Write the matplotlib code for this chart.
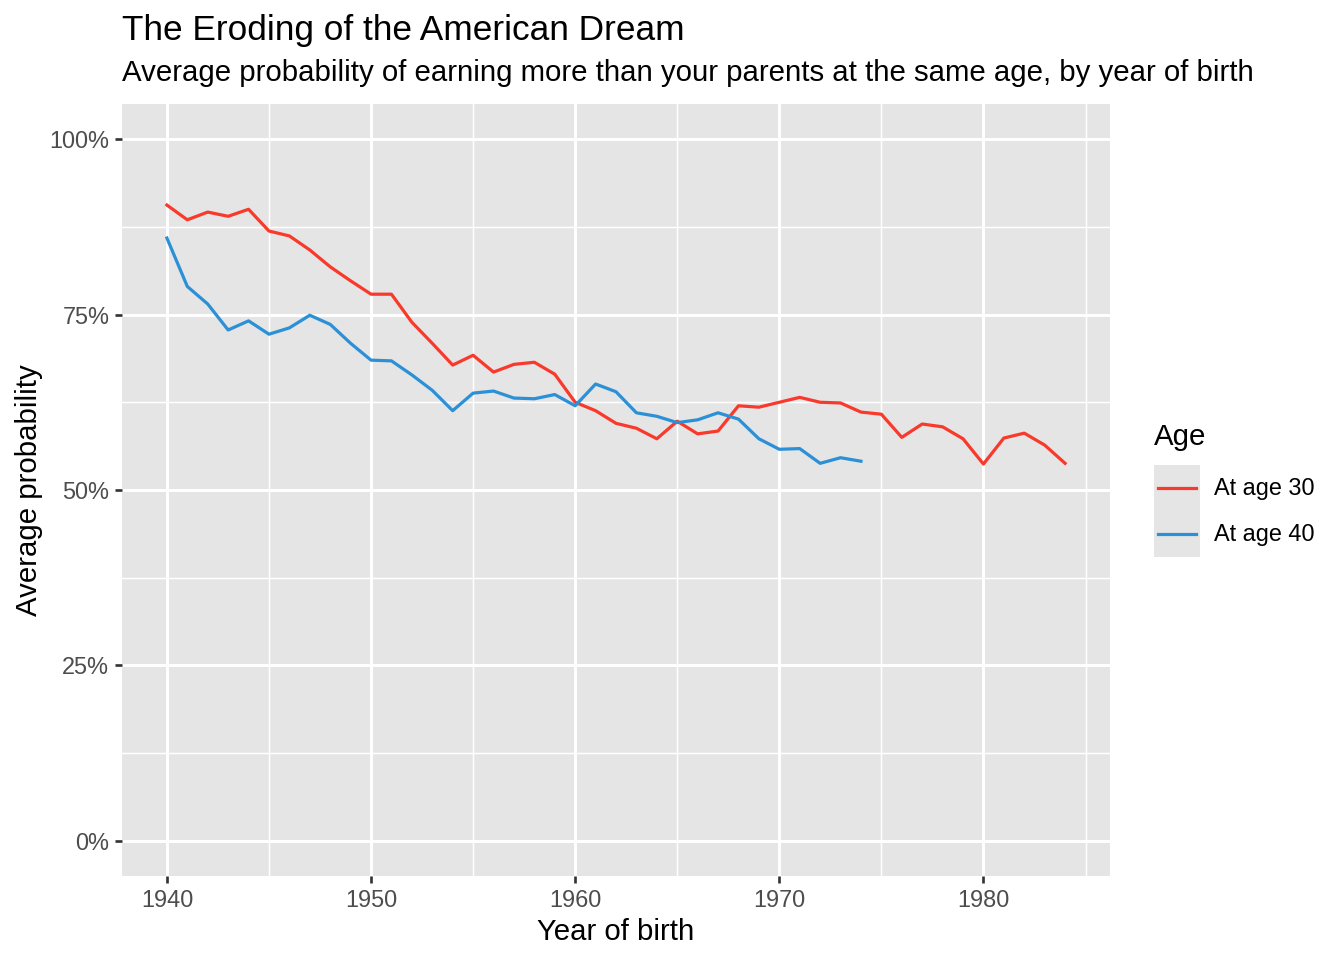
import matplotlib
matplotlib.use("Agg")
import matplotlib.pyplot as plt
from matplotlib.lines import Line2D
from matplotlib.patches import Rectangle

plt.rcParams['font.family'] = ['Liberation Sans', 'DejaVu Sans']

# data (percent)
years_30 = list(range(1940, 1985))
prob_30 = [90.6, 88.5, 89.6, 89.0, 90.0, 86.9, 86.2, 84.2, 81.8, 79.8,
           77.9, 77.9, 73.9, 70.9, 67.8, 69.2, 66.8, 67.9, 68.2, 66.5,
           62.5, 61.3, 59.5, 58.8, 57.3, 59.8, 58.0, 58.4, 62.0, 61.8,
           62.5, 63.2, 62.5, 62.4, 61.1, 60.8, 57.5, 59.4, 59.0, 57.3,
           53.7, 57.4, 58.1, 56.4, 53.8]
years_40 = list(range(1940, 1975))
prob_40 = [85.9, 79.0, 76.5, 72.8, 74.1, 72.2, 73.1, 74.9, 73.6, 70.9,
           68.5, 68.4, 66.4, 64.2, 61.3, 63.8, 64.1, 63.1, 63.0, 63.6,
           62.0, 65.1, 64.0, 61.0, 60.5, 59.6, 60.0, 61.0, 60.1, 57.3,
           55.8, 55.9, 53.8, 54.6, 54.1]
series_labels = ['At age 30', 'At age 40']
series_colors = ['#F8392B', '#2B90D6']

x_ticks = [1940, 1950, 1960, 1970, 1980]
y_ticks = [0, 25, 50, 75, 100]

W, H = 1344, 960
fig = plt.figure(figsize=(14, 10), dpi=96)
ax = fig.add_axes([122 / W, 1 - 876 / H, (1110 - 122) / W, (876 - 104) / H])
ax.set_facecolor('#E5E5E5')
for s in ax.spines.values():
    s.set_visible(False)

ax.set_xlim(1937.8, 1986.2)
ax.set_ylim(-5, 105)
ax.set_xticks(x_ticks)
ax.set_xticks([1945, 1955, 1965, 1975, 1985], minor=True)
ax.set_yticks(y_ticks)
ax.set_yticks([12.5, 37.5, 62.5, 87.5], minor=True)
ax.set_yticklabels([f'{v}%' for v in y_ticks])
ax.grid(which='major', color='white', linewidth=2.2)
ax.grid(which='minor', color='white', linewidth=1.1)
ax.set_axisbelow(True)
ax.tick_params(which='major', length=5.5, width=2, color='#333333',
               labelsize=17.6, labelcolor='#4D4D4D', pad=4)
ax.tick_params(which='minor', length=0)

ax.plot(years_30, prob_30, color=series_colors[0], linewidth=2.4)
ax.plot(years_40, prob_40, color=series_colors[1], linewidth=2.4)

ax.set_xlabel('Year of birth', fontsize=22, labelpad=5)
ax.set_ylabel('Average probability', fontsize=22, labelpad=5)

fig.text(122 / W, 1 - 40 / H, 'The Eroding of the American Dream',
         fontsize=26.4, ha='left', va='baseline')
fig.text(122 / W, 1 - 81 / H,
         'Average probability of earning more than your parents at the same age, by year of birth',
         fontsize=22, ha='left', va='baseline')

# legend, drawn like ggplot's
fig.text(1154 / W, 1 - 437 / H, 'Age', fontsize=22, ha='left', va='center')
fig.patches.append(Rectangle((1154 / W, 1 - 557 / H), 46 / W, 92 / H,
                             transform=fig.transFigure, facecolor='#E5E5E5',
                             edgecolor='none'))
for i, (lab, col) in enumerate(zip(series_labels, series_colors)):
    yc = 1 - (488 + 46 * i) / H
    fig.lines.append(Line2D([1158 / W, 1196 / W], [yc, yc], color=col,
                            linewidth=2.4, transform=fig.transFigure))
    fig.text(1214 / W, yc, lab, fontsize=17.6, ha='left', va='center')

fig.savefig('out.png', dpi=96, facecolor='white')
